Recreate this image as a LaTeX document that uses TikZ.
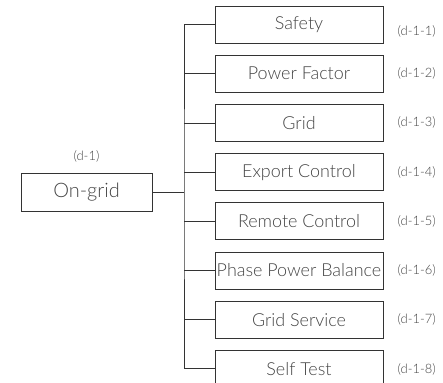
\documentclass[tikz,border=0pt]{standalone}
\usepackage{fontspec}
\setmainfont{Lato Light}
\usetikzlibrary{positioning}

\definecolor{linegray}{HTML}{333333}
\definecolor{textgray}{HTML}{444444}

\begin{document}
\begin{tikzpicture}[
    x=1bp, y=-1bp,
    node distance=11.3bp and 14bp,
    item/.style={rectangle, draw=linegray, line width=0.9pt, minimum height=37bp, minimum width=168bp, inner sep=0pt, text=textgray, font=\fontsize{18}{19}\selectfont},
    root/.style={rectangle, draw=linegray, line width=0.9pt, minimum height=38bp, minimum width=131bp, inner sep=0pt, text=textgray, font=\fontsize{20}{21}\selectfont},
    tag/.style={text=textgray, font=\fontsize{13}{14}\selectfont, inner sep=0pt},
    branch/.style={draw=linegray, line width=0.8pt}
]
\useasboundingbox (0,0) rectangle (443,382);

% Root
\node[root] (ongrid) at (86.5,192) {On-grid};
\node[tag, above=10bp of ongrid] (ongridtag) {(d-1)};

% Sub-menus
\node[item] (safety) at (299,24.5) {Safety};
\node[item, below=of safety] (pf) {Power Factor};
\node[item, below=of pf] (grid) {Grid};
\node[item, below=of grid] (export) {Export Control};
\node[item, below=of export] (remote) {Remote Control};
\node[item, below=of remote] (phase) {Phase Power Balance};
\node[item, below=of phase] (service) {Grid Service};
\node[item, below=of service] (selftest) {Self Test};

% Tags
\node[tag, right=of safety, yshift=-7bp] (safetytag) {(d-1-1)};
\node[tag, right=of pf] (pftag) {(d-1-2)};
\node[tag, right=of grid] (gridtag) {(d-1-3)};
\node[tag, right=of export] (exporttag) {(d-1-4)};
\node[tag, right=of remote] (remotetag) {(d-1-5)};
\node[tag, right=of phase] (phasetag) {(d-1-6)};
\node[tag, right=of service] (servicetag) {(d-1-7)};
\node[tag, right=of selftest, yshift=-1bp] (selftesttag) {(d-1-8)};

% Tree lines
\coordinate (trunk) at (184,192);
\draw[branch] (ongrid.east) -- (trunk);
\draw[branch] (safety.west) -| (trunk) |- (selftest.west);
\draw[branch] (trunk |- pf.west) -- (pf.west);
\draw[branch] (trunk |- grid.west) -- (grid.west);
\draw[branch] (trunk |- export.west) -- (export.west);
\draw[branch] (trunk |- remote.west) -- (remote.west);
\draw[branch] (trunk |- phase.west) -- (phase.west);
\draw[branch] (trunk |- service.west) -- (service.west);
\end{tikzpicture}
\end{document}
